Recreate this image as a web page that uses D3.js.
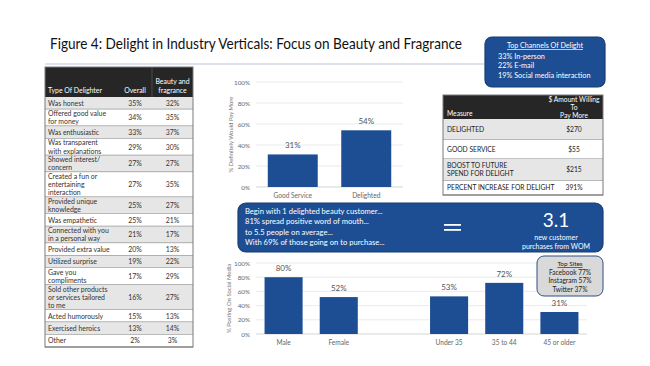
<!DOCTYPE html>
<html><head><meta charset="utf-8">
<script src="https://cdn.jsdelivr.net/npm/d3@7"></script>
<style>body{margin:0;background:#fff}svg{display:block;font-family:Lato,"Open Sans",sans-serif}</style>
</head><body><svg id="c" width="650" height="366"></svg>
<script>
// ---------- DATA ----------
const titleText = "Figure 4: Delight in Industry Verticals: Focus on Beauty and Fragrance";
const delighterHeaders = ["Type Of Delighter", "Overall", "Beauty and|fragrance"];
const delighters = ["Was honest","Offered good value|for money","Was enthusiastic","Was transparent|with explanations","Showed interest/|concern","Created a fun or|entertaining|interaction","Provided unique|knowledge","Was empathetic","Connected with you|in a personal way","Provided extra value","Utilized surprise","Gave you|compliments","Sold other products|or services tailored|to me","Acted humorously","Exercised heroics","Other"];
const overallPct = [35,34,33,29,27,27,25,25,21,20,19,17,16,15,13,2];
const beautyPct  = [32,35,37,30,27,35,27,21,17,13,22,29,27,13,14,3];

const payCats = ["Good Service","Delighted"];
const payVals = [31,54];
const payTicks = [0,20,40,60,80,100];

const channelsTitle = "Top Channels Of Delight";
const channels = ["33% In-person","22% E-mail","19% Social media interaction"];

const measureHeaders = ["Measure","$ Amount Willing|To|Pay More"];
const measures = ["DELIGHTED","GOOD SERVICE","BOOST TO FUTURE|SPEND FOR DELIGHT","PERCENT INCREASE FOR DELIGHT"];
const measureVals = ["$270","$55","$215","391%"];

const womLines = ["Begin with 1 delighted beauty customer...","81% spread positive word of mouth...","to 5.5 people on average...","With 69% of those going on to purchase..."];
const womResult = "3.1";
const womResultLabel = ["new customer","purchases from WOM"];

const socialCats = ["Male","Female","","Under 35","35 to 44","45 or older"];
const socialVals = [80,52,null,53,72,31];
const socialTicks = [0,20,40,60,80,100];
const sitesTitle = "Top Sites";
const sites = ["Facebook 77%","Instagram 57%","Twitter 37%"];

// ---------- DRAW ----------
const svg = d3.select("#c");
const BLUE = "#1d4e94", NAVY = "#173d73", TXT = "#333";
svg.append("rect").attr("width",650).attr("height",366).attr("fill","#fff");

svg.append("text").attr("x",50).attr("y",49).attr("font-size",15.2).attr("fill","#111")
  .attr("textLength",412).attr("lengthAdjust","spacingAndGlyphs").text(titleText);
svg.append("line").attr("x1",45).attr("x2",484).attr("y1",64).attr("y2",64).attr("stroke","#dde2ea").attr("stroke-width",2);

// Left table
(function(){
  const x0=45, cols=[45,112,152,193], top=67, headH=30;
  const hByLines={1:12.4,2:16.8,3:25};
  const g=svg.append("g").attr("font-size",6.9);
  g.append("rect").attr("x",x0).attr("y",top).attr("width",cols[3]-x0).attr("height",headH).attr("fill","#262626");
  g.append("line").attr("x1",cols[2]).attr("x2",cols[2]).attr("y1",top).attr("y2",top+headH).attr("stroke","#555").attr("stroke-width",0.8);
  g.append("text").attr("x",cols[0]+3).attr("y",top+headH-4).attr("fill","#fff").text(delighterHeaders[0]);
  g.append("text").attr("x",(cols[1]+cols[2])/2+3).attr("y",top+headH-4).attr("fill","#fff").attr("text-anchor","middle").text(delighterHeaders[1]);
  delighterHeaders[2].split("|").forEach((t,i,a)=>g.append("text").attr("x",(cols[2]+cols[3])/2).attr("y",top+headH-4-(a.length-1-i)*9).attr("fill","#fff").attr("text-anchor","middle").text(t));
  let y=top+headH;
  delighters.forEach((lab,i)=>{
    const lines=lab.split("|"), h=hByLines[lines.length];
    g.append("rect").attr("x",x0).attr("y",y).attr("width",cols[3]-x0).attr("height",h).attr("fill",i%2===0?"#e6e6e6":"#fff");
    const ty = lines.length===1 ? y+h/2+2.5 : y+6.8;
    lines.forEach((t,k)=>g.append("text").attr("x",cols[0]+3).attr("y",ty+k*8.1).attr("fill",TXT).text(t));
    g.append("text").attr("x",(cols[1]+cols[2])/2+3).attr("y",y+h/2+2.5).attr("text-anchor","middle").attr("fill",TXT).text(overallPct[i]+"%");
    g.append("text").attr("x",(cols[2]+cols[3])/2).attr("y",y+h/2+2.5).attr("text-anchor","middle").attr("fill",TXT).text(beautyPct[i]+"%");
    y+=h;
    g.append("line").attr("x1",x0).attr("x2",cols[3]).attr("y1",y).attr("y2",y).attr("stroke","#8a8a8a").attr("stroke-width",1.2);
  });
  g.append("rect").attr("x",x0).attr("y",top).attr("width",cols[3]-x0).attr("height",y-top).attr("fill","none").attr("stroke","#7a7a7a").attr("stroke-width",1);
})();

// bar chart helper
function barChart(cats, vals, ticks, x0, x1, yTop, yBot, pad, ylab, ylabX){
  const g=svg.append("g");
  const x=d3.scaleBand().domain(cats.map((c,i)=>i)).range([x0,x1]).paddingInner(pad).paddingOuter(pad/2);
  const y=d3.scaleLinear().domain([0,100]).range([yBot,yTop]);
  g.selectAll(".gl").data(ticks).join("line").attr("x1",x0).attr("x2",x1).attr("y1",d=>y(d)).attr("y2",d=>y(d)).attr("stroke","#e6e6e6").attr("stroke-width",0.8);
  g.append("g").attr("transform",`translate(${x0-3},0)`).call(d3.axisLeft(y).tickValues(ticks).tickFormat(d=>d+"%").tickSize(0))
    .call(a=>a.select(".domain").remove()).selectAll("text").attr("font-size",6.3).attr("fill","#666").attr("font-family","Lato");
  g.append("line").attr("x1",x0).attr("x2",x1).attr("y1",yBot).attr("y2",yBot).attr("stroke","#d9d9d9").attr("stroke-width",0.8);
  const data=vals.map((v,i)=>({i,v})).filter(d=>d.v!=null);
  g.selectAll(".b").data(data).join("rect").attr("x",d=>x(d.i)).attr("width",x.bandwidth()).attr("y",d=>y(d.v)).attr("height",d=>yBot-y(d.v)).attr("fill",BLUE);
  g.selectAll(".v").data(data).join("text").attr("x",d=>x(d.i)+x.bandwidth()/2).attr("y",d=>y(d.v)-6).attr("text-anchor","middle").attr("font-size",8).attr("fill","#555").text(d=>d.v+"%");
  g.selectAll(".c").data(cats.map((c,i)=>({c,i}))).join("text").attr("x",d=>x(d.i)+x.bandwidth()/2).attr("y",yBot+11).attr("text-anchor","middle").attr("font-size",6.6).attr("fill","#666").text(d=>d.c);
  g.append("text").attr("transform",`translate(${ylabX},${(yTop+yBot)/2}) rotate(-90)`).attr("text-anchor","middle").attr("font-size",5.9).attr("fill","#777").text(ylab);
}
barChart(payCats,payVals,payTicks,256,403,82,187,0.32,"% Definitely Would Pay More",233);
barChart(socialCats,socialVals,socialTicks,256,587,263,334,0.31,"% Posting On Social Media",231);

// Top channels box
(function(){
  const g=svg.append("g");
  g.append("rect").attr("x",485).attr("y",37).attr("width",120).attr("height",50).attr("rx",7).attr("fill",BLUE).attr("stroke",NAVY).attr("stroke-width",1.2);
  g.append("text").attr("x",545).attr("y",48).attr("text-anchor","middle").attr("font-size",7.1).attr("fill","#fff").attr("text-decoration","underline").text(channelsTitle);
  channels.forEach((t,i)=>g.append("text").attr("x",498).attr("y",59+i*9.3).attr("font-size",7.3).attr("fill","#fff").text(t));
})();

// Measure table
(function(){
  const g=svg.append("g").attr("font-size",6.7);
  const x0=443,xm=545,x1=603,top=95,hb=119;
  g.append("rect").attr("x",x0).attr("y",top).attr("width",x1-x0).attr("height",hb-top).attr("fill","#262626");
  g.append("text").attr("x",x0+4).attr("y",hb-3).attr("fill","#fff").text(measureHeaders[0]);
  measureHeaders[1].split("|").forEach((t,i)=>g.append("text").attr("x",(xm+x1)/2).attr("y",top+7+i*8).attr("text-anchor","middle").attr("fill","#fff").text(t));
  const rows=[119,140,159,181,195];
  measures.forEach((m,i)=>{
    g.append("rect").attr("x",x0).attr("y",rows[i]).attr("width",x1-x0).attr("height",rows[i+1]-rows[i]).attr("fill",i%2===0?"#e6e6e6":"#fff");
    const lines=m.split("|"), mid=(rows[i]+rows[i+1])/2;
    lines.forEach((t,k)=>g.append("text").attr("x",x0+4).attr("y",mid+2.3+(k-(lines.length-1)/2)*8).attr("fill","#222").text(t));
    g.append("text").attr("x",(xm+x1)/2).attr("y",mid+2.3).attr("text-anchor","middle").attr("fill","#222").text(measureVals[i]);
    g.append("line").attr("x1",x0).attr("x2",x1).attr("y1",rows[i+1]).attr("y2",rows[i+1]).attr("stroke","#8a8a8a").attr("stroke-width",1.1);
  });
  g.append("rect").attr("x",x0).attr("y",top).attr("width",x1-x0).attr("height",195-top).attr("fill","none").attr("stroke","#7a7a7a").attr("stroke-width",1);
})();

// WOM box
(function(){
  const g=svg.append("g");
  g.append("rect").attr("x",238).attr("y",203).attr("width",365).attr("height",49).attr("rx",8).attr("fill",BLUE).attr("stroke",NAVY).attr("stroke-width",1.2);
  womLines.forEach((t,i)=>g.append("text").attr("x",245).attr("y",214+i*10.3).attr("font-size",7.6).attr("fill","#fff").text(t));
  g.append("rect").attr("x",444).attr("y",224).attr("width",17).attr("height",1.8).attr("fill","#fff");
  g.append("rect").attr("x",444).attr("y",229).attr("width",17).attr("height",1.8).attr("fill","#fff");
  g.append("text").attr("x",556).attr("y",227).attr("text-anchor","middle").attr("font-size",19).attr("fill","#fff").text(womResult);
  womResultLabel.forEach((t,i)=>g.append("text").attr("x",556).attr("y",240+i*9.3).attr("text-anchor","middle").attr("font-size",7).attr("fill","#fff").text(t));
})();

// Top sites box
(function(){
  const g=svg.append("g");
  g.append("rect").attr("x",537).attr("y",256).attr("width",66).attr("height",40).attr("rx",7).attr("fill","#d9d9d9").attr("stroke","#2f4f87").attr("stroke-width",1);
  g.append("text").attr("x",570).attr("y",266).attr("text-anchor","middle").attr("font-size",6.4).attr("fill","#222").attr("text-decoration","underline").text(sitesTitle);
  sites.forEach((t,i)=>g.append("text").attr("x",570).attr("y",275+i*8.3).attr("text-anchor","middle").attr("font-size",6.6).attr("fill","#222").text(t));
})();
</script></body></html>
